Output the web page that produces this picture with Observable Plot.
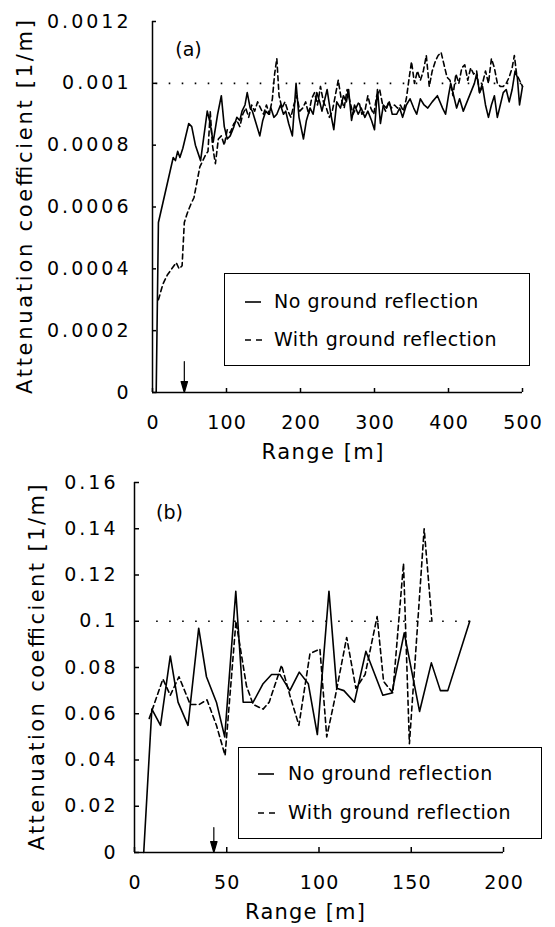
<!DOCTYPE html>
<html><head><meta charset="utf-8">
<script src="https://cdn.jsdelivr.net/npm/d3@7"></script>
<script src="https://cdn.jsdelivr.net/npm/@observablehq/plot@0.6"></script>
<style>
body{margin:0;background:#fff;}
#wrap{position:relative;width:555px;height:927px;font-family:"DejaVu Sans";color:#000;}
.pane{position:absolute;left:0;width:555px;}
.legend{position:absolute;border:1.5px solid #000;box-sizing:border-box;background:#fff;font-size:19px;letter-spacing:0.5px;}
.legend .row{position:absolute;left:0;right:0;height:26px;}
.legend svg{position:absolute;top:0;}
.legend span{position:absolute;top:0;line-height:26px;white-space:nowrap;}
</style></head>
<body><div id="wrap"></div>
<script>
// ---------- Panel (a) ----------
const xTicksA = [0, 100, 200, 300, 400, 500];
const yTicksA = [0, 0.0002, 0.0004, 0.0006, 0.0008, 0.001, 0.0012];
const rangeNoA = [5,8,28,31,34,37,41,49,53,58,65,74,78,82,88,93,97,101,105,110,114,118,121,125,128,132,135,140,145,149,153,157,160,164,168,173,177,180,184,189,194,198,204,208,213,217,222,226,229,233,236,241,245,249,254,258,262,265,269,273,278,282,287,291,296,300,304,308,312,316,320,324,330,334,338,343,348,353,357,362,367,372,378,385,392,396,400,403,407,411,415,420,425,430,435,438,442,446,450,454,458,462,466,470,474,478,482,486,490,493,496,500];
const attNoA = [0,0.00055,0.00076,0.00075,0.00078,0.00076,0.00079,0.00087,0.00086,0.00080,0.00075,0.00091,0.00087,0.00081,0.00090,0.00096,0.00086,0.00082,0.00083,0.00086,0.00089,0.00088,0.00091,0.00093,0.00097,0.00092,0.00091,0.00087,0.00083,0.00088,0.00091,0.00090,0.00092,0.00089,0.00090,0.00093,0.00090,0.00091,0.00087,0.00083,0.00100,0.00089,0.00082,0.00088,0.00092,0.00090,0.00097,0.00094,0.00091,0.00095,0.00098,0.00090,0.00085,0.00094,0.00092,0.00096,0.00094,0.00098,0.00088,0.00093,0.00090,0.00092,0.00089,0.00091,0.00088,0.00085,0.00098,0.00087,0.00093,0.00092,0.00094,0.00090,0.00090,0.00092,0.00089,0.00093,0.00095,0.00092,0.00090,0.00095,0.00093,0.00092,0.00094,0.00096,0.00092,0.00090,0.00096,0.00100,0.00096,0.00092,0.00095,0.00091,0.00094,0.00097,0.00100,0.00103,0.00097,0.00099,0.00093,0.00089,0.00093,0.00096,0.00089,0.00093,0.00097,0.00098,0.00094,0.00098,0.00104,0.00102,0.00093,0.00099];
const rangeWithA = [8,14,20,26,32,36,40,43,47,52,56,60,64,68,72,75,78,81,85,89,93,97,101,105,110,114,118,122,126,130,134,138,142,146,150,154,158,162,165,168,171,175,179,183,187,191,195,199,203,207,211,215,219,223,227,231,235,239,243,247,251,255,259,263,267,271,275,279,283,287,291,295,299,303,307,311,315,319,323,327,331,335,339,343,347,350,354,358,362,366,370,374,378,382,386,390,394,398,402,406,410,414,418,422,426,430,434,438,442,446,450,454,458,462,466,470,474,478,482,486,489,492,496,500];
const attWithA = [0.00030,0.00035,0.00038,0.00040,0.00042,0.00040,0.00041,0.00055,0.00058,0.00061,0.00063,0.00068,0.00073,0.00075,0.00077,0.00078,0.00091,0.00080,0.00074,0.00082,0.00083,0.00080,0.00085,0.00084,0.00087,0.00088,0.00086,0.00090,0.00092,0.00089,0.00093,0.00091,0.00094,0.00092,0.00090,0.00093,0.00090,0.00095,0.00103,0.00108,0.00096,0.00092,0.00094,0.00091,0.00089,0.00093,0.00096,0.00091,0.00092,0.00094,0.00090,0.00095,0.00097,0.00093,0.00099,0.00094,0.00092,0.00089,0.00091,0.00096,0.00101,0.00095,0.00092,0.00098,0.00094,0.00090,0.00092,0.00094,0.00090,0.00091,0.00096,0.00092,0.00090,0.00096,0.00098,0.00093,0.00091,0.00094,0.00092,0.00093,0.00092,0.00093,0.00091,0.00095,0.00102,0.00107,0.00100,0.00104,0.00101,0.00104,0.00109,0.00099,0.00104,0.00107,0.00109,0.00110,0.00106,0.00102,0.00101,0.00096,0.00103,0.00100,0.00105,0.00106,0.00101,0.00105,0.00103,0.00104,0.00097,0.00100,0.00104,0.00100,0.00108,0.00105,0.00100,0.00099,0.00099,0.00100,0.00102,0.00105,0.00109,0.00103,0.00101,0.00099];
const refA = [0.001];
const refSpanA = [5, 500];
const markerA = [43];

// ---------- Panel (b) ----------
const xTicksB = [0, 50, 100, 150, 200];
const yTicksB = [0, 0.02, 0.04, 0.06, 0.08, 0.1, 0.12, 0.14, 0.16];
const rangeNoB = [5,9.4,14.1,19.4,23.6,29,34.8,39,44.4,48.9,54.9,58.9,64.3,69.7,74.3,78.8,84.2,89.3,94.2,99.1,105.4,109.6,113.5,119.2,125.4,134.6,139.5,146.2,154.5,160.9,165.8,169.8,181.7];
const attNoB = [0,0.062,0.055,0.085,0.065,0.055,0.097,0.076,0.065,0.050,0.113,0.065,0.065,0.073,0.077,0.077,0.070,0.078,0.073,0.051,0.113,0.071,0.070,0.065,0.087,0.068,0.069,0.095,0.061,0.082,0.070,0.070,0.100];
const rangeWithB = [8,15.4,19.4,24.1,30.2,35,39.3,44.4,49.1,55,60.7,64.3,69.7,73,79.7,84.2,89.1,92,95.1,100.5,104.2,108.7,115,120,125,131.5,135,140,145.8,149,157,161.2];
const attWithB = [0.058,0.075,0.068,0.076,0.064,0.064,0.066,0.055,0.042,0.100,0.072,0.064,0.062,0.065,0.081,0.068,0.055,0.070,0.086,0.088,0.050,0.067,0.093,0.071,0.077,0.102,0.074,0.069,0.125,0.047,0.140,0.100];
const refB = [0.1];
const refSpanB = [12, 182];
const markerB = [43];

const yTitle = "Attenuation coefficient [1/m]";
const xTitle = "Range [m]";
const seriesNames = ["No ground reflection", "With ground reflection"];

const toRows = (xs, ys) => xs.map((x, i) => ({x, y: ys[i]}));

const arrowShape = {draw(ctx, l) {
  ctx.moveTo(0, 0); ctx.lineTo(0, -l);
  ctx.moveTo(-3.2, -l + 11); ctx.lineTo(0, -l); ctx.lineTo(3.2, -l + 11); ctx.closePath();
}};

function panel({width, height, m, xDomain, yDomain, xTicks, yTicks, no, withG, ref, refSpan, marker, arrowLen, yPad, label, labelDx, labelDy, yTitleDx, xTitleDx, tick}) {
  const fw = width - m.left - m.right, fh = height - m.top - m.bottom;
  return Plot.plot({
    width, height,
    marginLeft: m.left, marginRight: m.right, marginTop: m.top, marginBottom: m.bottom,
    x: {domain: xDomain}, y: {domain: yDomain},
    style: {fontFamily: "DejaVu Sans", fontSize: "19px", color: "#000", background: "transparent", overflow: "visible"},
    marks: [
      Plot.ruleY(ref, {x1: refSpan[0], x2: refSpan[1], strokeDasharray: "1.6,11.4", strokeWidth: 1.7}),
      Plot.line(no, {x: "x", y: "y", strokeWidth: 1.6, stroke: "#000"}),
      Plot.line(withG, {x: "x", y: "y", strokeWidth: 1.6, stroke: "#000", strokeDasharray: "5,3.5"}),
      Plot.ruleX([xDomain[0]], {strokeWidth: 1.5}),
      Plot.ruleY([yDomain[0]], {strokeWidth: 1.5}),
      Plot.tickY(yTicks, {insetRight: fw - tick, strokeWidth: 1.5}),
      Plot.tickX(xTicks, {insetTop: fh - tick, strokeWidth: 1.5}),
      Plot.vector(marker, {x: d => d, y: yDomain[0], length: arrowLen, rotate: 180, anchor: "end", shape: arrowShape, fill: "#000", stroke: "#000", strokeWidth: 1.2}),
      Plot.axisY(yTicks, {tickSize: 0, tickPadding: yPad, tickFormat: d => String(d), label: null}),
      Plot.axisX(xTicks, {tickSize: 0, tickPadding: 23, tickFormat: d => String(d), label: null}),
      Plot.text([yTitle], {text: d => d, frameAnchor: "left", rotate: -90, dx: yTitleDx, fontSize: 21, textAnchor: "middle", lineAnchor: "middle"}),
      Plot.text([xTitle], {text: d => d, frameAnchor: "bottom", dx: xTitleDx, dy: 60, fontSize: 21, textAnchor: "middle", lineAnchor: "middle"}),
      Plot.text([label], {text: d => d, frameAnchor: "top-left", dx: labelDx, dy: labelDy, textAnchor: "middle", lineAnchor: "middle", fontSize: 19})
    ]
  });
}

// widen text glyph spacing (the reference uses tracked lettering)
function track(svg, xTicks, yTicks, yTitleLen, xTitleLen) {
  const ys = new Set(yTicks.map(String)), xs = new Set(xTicks.map(String));
  svg.querySelectorAll("text").forEach(t => {
    const s = t.textContent;
    const n = s.length;
    let extra = 0, target = null;
    if (s === yTitle) target = yTitleLen;
    else if (s === xTitle) target = xTitleLen;
    else if (n > 1 && ys.has(s)) extra = 3;
    else if (n > 1 && xs.has(s)) extra = 1.2;
    if (target == null && extra === 0) return;
    const L = t.getComputedTextLength();
    t.setAttribute("textLength", target != null ? target : L + extra * (n - 1));
    t.setAttribute("lengthAdjust", "spacing");
  });
}

const wrap = document.getElementById("wrap");

function addPane(svg, top, xTicks, yTicks, yTitleLen, xTitleLen) {
  const d = document.createElement("div");
  d.className = "pane"; d.style.top = top + "px";
  d.appendChild(svg); wrap.appendChild(d);
  track(svg, xTicks, yTicks, yTitleLen, xTitleLen);
}

addPane(panel({
  width: 555, height: 465, m: {left: 152, right: 33, top: 21, bottom: 73},
  xDomain: [0, 500], yDomain: [0, 0.0012], xTicks: xTicksA, yTicks: yTicksA,
  no: toRows(rangeNoA, attNoA), withG: toRows(rangeWithA, attWithA),
  ref: refA, refSpan: refSpanA, marker: markerA, arrowLen: 31, yPad: 24,
  label: "(a)", labelDx: 36, labelDy: 28, yTitleDx: -127, xTitleDx: -15, tick: 4
}), 0, xTicksA, yTicksA, 374, 122);

addPane(panel({
  width: 555, height: 462, m: {left: 134, right: 52, top: 17, bottom: 75},
  xDomain: [0, 200], yDomain: [0, 0.16], xTicks: xTicksB, yTicks: yTicksB,
  no: toRows(rangeNoB, attNoB), withG: toRows(rangeWithB, attWithB),
  ref: refB, refSpan: refSpanB, marker: markerB, arrowLen: 25, yPad: 19,
  label: "(b)", labelDx: 35, labelDy: 30, yTitleDx: -97, xTitleDx: -14, tick: 5
}), 465, xTicksB, yTicksB, 366, 120);

function addLegend(left, top, w, h, rows, sampleX, textX) {
  const L = document.createElement("div");
  L.className = "legend";
  Object.assign(L.style, {left: left + "px", top: top + "px", width: w + "px", height: h + "px"});
  rows.forEach((r, i) => {
    const row = document.createElement("div");
    row.className = "row"; row.style.top = (r.y - 13) + "px";
    const s = document.createElementNS("http://www.w3.org/2000/svg", "svg");
    s.setAttribute("width", "24"); s.setAttribute("height", "26");
    s.style.left = sampleX + "px";
    const ln = document.createElementNS("http://www.w3.org/2000/svg", "line");
    ln.setAttribute("x1", "0"); ln.setAttribute("x2", i === 0 ? "16" : "18");
    ln.setAttribute("y1", "14"); ln.setAttribute("y2", "14");
    ln.setAttribute("stroke", "#000"); ln.setAttribute("stroke-width", "1.6");
    if (i === 1) ln.setAttribute("stroke-dasharray", "6,5");
    s.appendChild(ln); row.appendChild(s);
    const t = document.createElement("span");
    t.style.left = textX + "px"; t.textContent = seriesNames[i];
    row.appendChild(t);
    L.appendChild(row);
  });
  wrap.appendChild(L);
}

addLegend(224, 273, 306, 93, [{y: 27}, {y: 65}], 20, 49);
addLegend(238, 747, 304, 92, [{y: 25}, {y: 64}], 19, 49);
</script></body></html>
